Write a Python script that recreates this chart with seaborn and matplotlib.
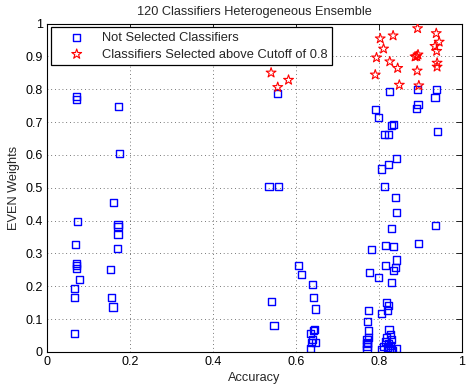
import numpy as np
import pandas as pd
import matplotlib
matplotlib.use("Agg")
import matplotlib.pyplot as plt
import seaborn as sns

# Not selected classifiers (accuracy, EVEN weight)
ns_acc = [0.070, 0.070, 0.173, 0.175, 0.161, 0.073, 0.171, 0.171, 0.171, 0.069,
          0.170, 0.070, 0.070, 0.070, 0.154, 0.078, 0.067, 0.067, 0.155, 0.159,
          0.067,
          0.555, 0.535, 0.558, 0.605, 0.613, 0.640, 0.643, 0.542, 0.647, 0.547,
          0.645, 0.643, 0.635, 0.640, 0.647, 0.637, 0.636,
          0.825, 0.892, 0.938, 0.935, 0.791, 0.799, 0.894, 0.890, 0.830, 0.834,
          0.813, 0.823, 0.940, 0.842, 0.823, 0.806, 0.813,
          0.840, 0.843, 0.937, 0.831, 0.895, 0.781, 0.815, 0.834, 0.842, 0.815,
          0.839, 0.836, 0.777, 0.798, 0.830, 0.818, 0.823, 0.821, 0.774, 0.806,
          0.773, 0.774, 0.775, 0.771, 0.771, 0.771, 0.771, 0.772,
          0.824, 0.828, 0.818, 0.830, 0.815, 0.823, 0.827, 0.811, 0.821, 0.829,
          0.843, 0.806, 0.824, 0.833]
ns_w = [0.778, 0.768, 0.747, 0.603, 0.456, 0.398, 0.389, 0.382, 0.357, 0.326,
        0.314, 0.270, 0.262, 0.255, 0.251, 0.222, 0.194, 0.165, 0.165, 0.137,
        0.057,
        0.787, 0.505, 0.505, 0.264, 0.235, 0.206, 0.167, 0.155, 0.131, 0.081,
        0.068, 0.066, 0.057, 0.039, 0.030, 0.030, 0.011,
        0.793, 0.799, 0.799, 0.774, 0.738, 0.713, 0.754, 0.741, 0.689, 0.692,
        0.661, 0.663, 0.670, 0.589, 0.572, 0.557, 0.505,
        0.470, 0.426, 0.384, 0.376, 0.329, 0.312, 0.323, 0.320, 0.280, 0.263,
        0.257, 0.248, 0.243, 0.228, 0.212, 0.150, 0.142, 0.126, 0.125, 0.116,
        0.094, 0.065, 0.045, 0.037, 0.026, 0.016, 0.006, 0.030,
        0.069, 0.052, 0.045, 0.037, 0.031, 0.026, 0.021, 0.018, 0.014, 0.010,
        0.011, 0.008, 0.006, 0.004]

# Selected classifiers above cutoff 0.8
sel_acc = [0.540, 0.556, 0.582, 0.803, 0.834, 0.811, 0.794, 0.826, 0.845, 0.791,
           0.849, 0.893, 0.887, 0.894, 0.891, 0.892, 0.896, 0.938, 0.945, 0.935,
           0.939, 0.940, 0.940]
sel_w = [0.850, 0.806, 0.828, 0.954, 0.963, 0.923, 0.896, 0.884, 0.864, 0.844,
         0.813, 0.985, 0.899, 0.905, 0.900, 0.856, 0.811, 0.970, 0.944, 0.931,
         0.916, 0.880, 0.868]

title = "120 Classifiers Heterogeneous Ensemble"
label_ns = "Not Selected Classifiers"
label_sel = "Classifiers Selected above Cutoff of 0.8"
x_ticks = [0, 0.2, 0.4, 0.6, 0.8, 1]
x_ticklabels = ["0", "0.2", "0.4", "0.6", "0.8", "1"]
y_ticks = [0, 0.1, 0.2, 0.3, 0.4, 0.5, 0.6, 0.7, 0.8, 0.9, 1]
y_ticklabels = ["0", "0.1", "0.2", "0.3", "0.4", "0.5", "0.6", "0.7", "0.8", "0.9", "1"]

df_ns = pd.DataFrame({"Accuracy": ns_acc, "Weight": ns_w})
df_sel = pd.DataFrame({"Accuracy": sel_acc, "Weight": sel_w})

sns.set_style("white")
plt.rcParams["font.family"] = ["Liberation Sans", "DejaVu Sans"]

fig = plt.figure(figsize=(4.66, 3.90), dpi=100)
ax = fig.add_axes([47/466, 1 - 352/390, 415/466, (352 - 23.5)/390])

sns.scatterplot(data=df_ns, x="Accuracy", y="Weight", ax=ax, marker="s",
                s=26, facecolors="none", edgecolor="#0000ff", linewidth=1.0,
                label=label_ns, zorder=3)
sns.scatterplot(data=df_sel, x="Accuracy", y="Weight", ax=ax, marker="*",
                s=55, facecolors="none", edgecolor="#ff0000", linewidth=0.8,
                label=label_sel, zorder=3)

ax.set_xlim(0, 1)
ax.set_ylim(0, 1)
ax.set_xticks(x_ticks)
ax.set_xticklabels(x_ticklabels)
ax.set_yticks(y_ticks)
ax.set_yticklabels(y_ticklabels)
ax.tick_params(direction="in", length=4, width=0.6, labelsize=9, top=True,
               right=True, colors="black", pad=3)
ax.grid(True, linestyle=(0, (1, 3.5)), color="black", linewidth=0.6, alpha=0.7)
for sp in ax.spines.values():
    sp.set_visible(True)
    sp.set_color("black")
    sp.set_linewidth(0.8)

ax.set_title(title, fontsize=9.2, pad=6)
ax.set_xlabel("Accuracy", fontsize=9.2, labelpad=3)
ax.set_ylabel("EVEN Weights", fontsize=9.2, labelpad=4)

leg = ax.legend(loc="upper left", fontsize=9.3, frameon=True, fancybox=False,
                edgecolor="black", borderaxespad=0.3, handletextpad=0.3,
                borderpad=0.35, labelspacing=0.35, handlelength=3.3)
leg.get_frame().set_linewidth(0.9)
leg.get_frame().set_alpha(1)

fig.savefig("out.png", dpi=100)
